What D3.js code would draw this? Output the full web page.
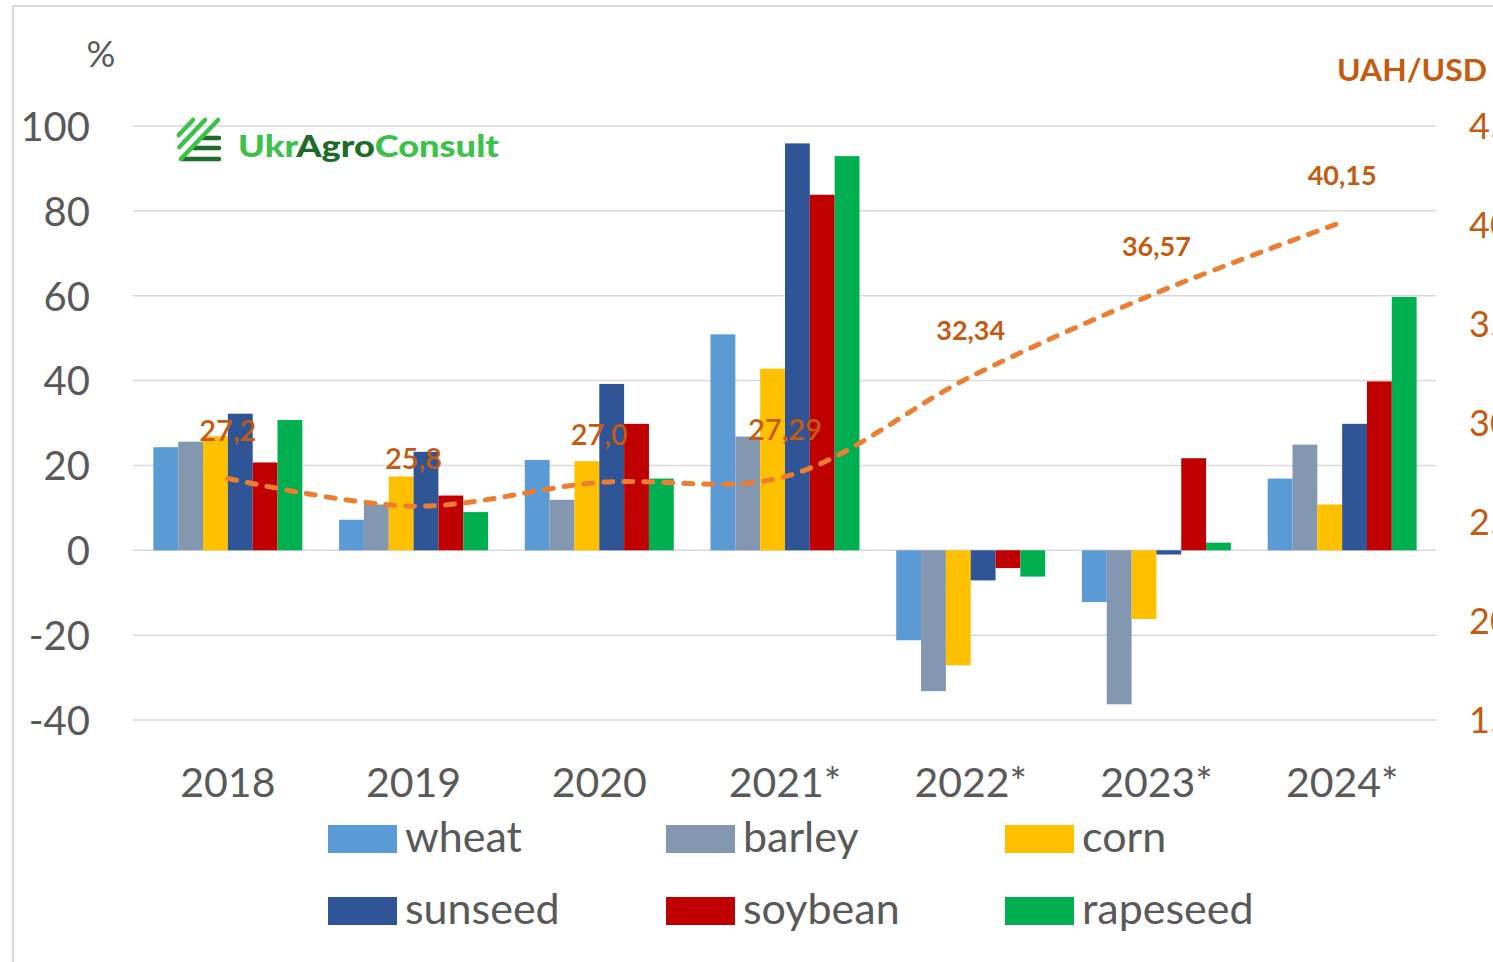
<!DOCTYPE html>
<html>
<head>
<meta charset="utf-8">
<script src="https://cdn.jsdelivr.net/npm/d3@7"></script>
<style>
  html, body { margin: 0; padding: 0; background: #fff; overflow: hidden; }
  svg { display: block; font-family: Lato, "Open Sans", sans-serif; }
</style>
</head>
<body>
<div id="chart"></div>
<script>
// Datos del gráfico
const years = ["2018", "2019", "2020", "2021*", "2022*", "2023*", "2024*"];
const crops = ["wheat", "barley", "corn", "sunseed", "soybean", "rapeseed"];
const cropColors = ["#5B9BD5", "#8497B0", "#FFC000", "#2F5597", "#C00000", "#00B050"];

// % change per crop, one value per year
const wheat    = [24.3,  7.2, 21.3, 50.9, -21.2, -12.2, 16.9];
const barley   = [25.6, 10.8, 11.9, 26.8, -33.2, -36.3, 24.9];
const corn     = [26.9, 17.4, 21.0, 42.8, -27.1, -16.2, 10.8];
const sunseed  = [32.2, 23.2, 39.2, 95.9,  -7.1,  -1.0, 29.8];
const soybean  = [20.7, 12.9, 29.8, 83.8,  -4.2,  21.7, 39.8];
const rapeseed = [30.7,  9.0, 16.9, 92.9,  -6.2,   1.8, 59.7];

// UAH/USD exchange rate
const rate = [27.2, 25.8, 27.0, 27.29, 32.34, 36.57, 40.15];
const rateLabels = ["27,2", "25,8", "27,0", "27,29", "32,34", "36,57", "40,15"];

const leftTicks = [-40, -20, 0, 20, 40, 60, 80, 100];
const rightTicks = [15, 20, 25, 30, 35, 40, 45];

const seriesValues = [wheat, barley, corn, sunseed, soybean, rapeseed];

const W = 1493, H = 962;
const svg = d3.select("#chart").append("svg")
    .attr("width", W)
    .attr("height", H);

// Borde del área del gráfico
svg.append("path")
    .attr("d", `M13,${H + 5} L13,6 L${W + 5},6`)
    .attr("fill", "none")
    .attr("stroke", "#d9d9d9")
    .attr("stroke-width", 2);

// Escalas
const x = d3.scaleBand()
    .domain(years)
    .range([135, 1435])
    .padding(0);

const xInner = d3.scaleBand()
    .domain(crops)
    .range([0, x.bandwidth()])
    .paddingInner(0)
    .paddingOuter(0.74);

const y = d3.scaleLinear()
    .domain([-40, 100])
    .range([720, 126]);

const yRight = d3.scaleLinear()
    .domain([15, 45])
    .range([720, 126]);

// Líneas de cuadrícula
svg.append("g")
    .selectAll("line")
    .data(leftTicks)
    .enter()
    .append("line")
    .attr("x1", 133)
    .attr("x2", 1436)
    .attr("y1", d => y(d))
    .attr("y2", d => y(d))
    .attr("stroke", "#d9d9d9")
    .attr("stroke-width", 1.5);

// Eje Y izquierdo (guion normal, como en Excel)
const yAxis = svg.append("g")
    .attr("transform", "translate(90,0)")
    .call(d3.axisLeft(y).tickValues(leftTicks).tickFormat(d => String(d)).tickSize(0).tickPadding(0));
yAxis.select(".domain").remove();
yAxis.selectAll("text")
    .attr("fill", "#595959")
    .attr("font-size", 40)
    .attr("font-family", "Lato, sans-serif")
    .attr("dy", "0.36em");

// Eje Y derecho (cortado por el borde, igual que el original)
const yAxisR = svg.append("g")
    .attr("transform", "translate(1469,0)")
    .call(d3.axisRight(yRight).tickValues(rightTicks).tickFormat(d => String(d)).tickSize(0).tickPadding(0));
yAxisR.select(".domain").remove();
yAxisR.selectAll("text")
    .attr("fill", "#C55A11")
    .attr("font-size", 36)
    .attr("font-family", "Lato, sans-serif")
    .attr("dy", "0.36em");

// Eje X (etiquetas de años)
const xAxis = svg.append("g")
    .attr("transform", "translate(0,760)")
    .call(d3.axisBottom(x).tickSize(0).tickPadding(0));
xAxis.select(".domain").remove();
xAxis.selectAll("text")
    .attr("fill", "#595959")
    .attr("font-size", 41)
    .attr("font-family", "Lato, sans-serif")
    .attr("dy", "0.9em");

// Barras
const groups = svg.append("g")
    .selectAll("g")
    .data(years)
    .enter()
    .append("g")
    .attr("transform", d => `translate(${x(d)},0)`);

groups.selectAll("rect")
    .data((yr, i) => crops.map((c, k) => ({ crop: c, value: seriesValues[k][i], color: cropColors[k] })))
    .enter()
    .append("rect")
    .attr("x", d => xInner(d.crop))
    .attr("width", xInner.bandwidth())
    .attr("y", d => y(Math.max(0, d.value)))
    .attr("height", d => Math.abs(y(d.value) - y(0)))
    .attr("fill", d => d.color);

// Línea del tipo de cambio
const rateLine = d3.line()
    .x((d, i) => x(years[i]) + x.bandwidth() / 2)
    .y(d => yRight(d))
    .curve(d3.curveCatmullRom.alpha(0.5));

svg.append("path")
    .datum(rate)
    .attr("d", rateLine)
    .attr("fill", "none")
    .attr("stroke", "#ED7D31")
    .attr("stroke-width", 5)
    .attr("stroke-dasharray", "9,11")
    .attr("stroke-linecap", "round");

// Etiquetas de la línea
svg.append("g")
    .selectAll("text")
    .data(rate)
    .enter()
    .append("text")
    .attr("x", (d, i) => x(years[i]) + x.bandwidth() / 2)
    .attr("y", d => yRight(d) - 37)
    .attr("text-anchor", "middle")
    .attr("fill", "#C55A11")
    .attr("font-family", "Lato, sans-serif")
    .attr("font-size", (d, i) => i < 4 ? 29 : 27)
    .attr("font-weight", (d, i) => i < 4 ? 600 : 700)
    .text((d, i) => rateLabels[i]);

// Títulos de ejes
svg.append("text")
    .attr("x", 101)
    .attr("y", 67)
    .attr("text-anchor", "middle")
    .attr("fill", "#595959")
    .attr("font-size", 36)
    .text("%");

svg.append("text")
    .attr("x", 1337)
    .attr("y", 81)
    .attr("fill", "#C55A11")
    .attr("font-size", 30)
    .attr("font-weight", 700)
    .attr("textLength", 150)
    .attr("lengthAdjust", "spacingAndGlyphs")
    .text("UAH/USD");

// Logo
const logo = svg.append("g");
// barras horizontales (verde oscuro)
[[138, 203], [148, 193], [159, 182]].forEach(([yy, x0]) => {
    logo.append("line")
        .attr("x1", x0).attr("y1", yy)
        .attr("x2", 219).attr("y2", yy)
        .attr("stroke", "#1F6B2A")
        .attr("stroke-width", 4.5)
        .attr("stroke-linecap", "round");
});
// diagonales (verde claro)
[[193, 135], [205, 147], [218, 159]].forEach(([xt, yb]) => {
    logo.append("line")
        .attr("x1", xt - (yb - 120) * 0.95).attr("y1", yb)
        .attr("x2", xt).attr("y2", 120)
        .attr("stroke", "#3CC24A")
        .attr("stroke-width", 4.5)
        .attr("stroke-linecap", "round");
});
const logoText = logo.append("text")
    .attr("x", 238)
    .attr("y", 157)
    .attr("font-size", 30)
    .attr("font-weight", 900)
    .attr("textLength", 261)
    .attr("lengthAdjust", "spacingAndGlyphs");
logoText.append("tspan").attr("fill", "#3CC24A").text("Ukr");
logoText.append("tspan").attr("fill", "#1F6B2A").text("Agro");
logoText.append("tspan").attr("fill", "#3CC24A").text("Consult");

// Leyenda
const legendX = [328, 666, 1005];
const legendY = [825, 897];
const legend = svg.append("g")
    .selectAll("g")
    .data(crops)
    .enter()
    .append("g")
    .attr("transform", (d, i) => `translate(${legendX[i % 3]},${legendY[Math.floor(i / 3)]})`);

legend.append("rect")
    .attr("width", 69)
    .attr("height", 28)
    .attr("fill", (d, i) => cropColors[i]);

legend.append("text")
    .attr("x", 77)
    .attr("y", 27)
    .attr("fill", "#595959")
    .attr("font-size", 43)
    .text(d => d);
</script>
</body>
</html>
